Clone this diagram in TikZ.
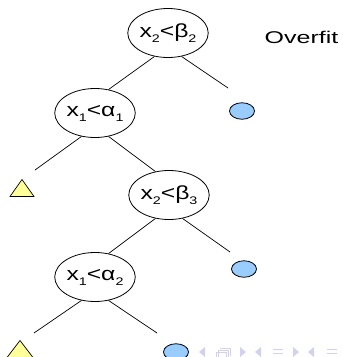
\documentclass[tikz,border=0pt]{standalone}
\usepackage{fontspec}
\setmainfont{Liberation Sans}
\usetikzlibrary{shapes.geometric}
\definecolor{leafblue}{HTML}{99CCFF}
\definecolor{leafyellow}{HTML}{FFFF99}
\definecolor{navc}{HTML}{D2D2EE}
\newcommand{\sbx}[1]{\raisebox{-5pt}{\fontsize{11}{11}\selectfont #1}}
\newcommand{\wide}[1]{\scalebox{1.3}[1]{#1}}
\newcommand{\widel}[1]{\scalebox{1.47}[1]{#1}}
\begin{document}
\begin{tikzpicture}[x=1pt,y=-1pt,
  split/.style={draw, ellipse, minimum width=75pt, minimum height=49pt, inner sep=0pt, line width=0.8pt, font=\fontsize{19}{19}\selectfont},
  bleaf/.style={draw, ellipse, fill=leafblue, minimum width=25pt, minimum height=16.5pt, inner sep=0pt, line width=0.8pt},
  tleaf/.style={draw, fill=leafyellow, line width=0.7pt, line join=miter},
  edge/.style={line width=0.7pt},
  nav/.style={fill=navc, draw=none},
  navl/.style={draw=navc, line width=1pt}
]
\useasboundingbox (0,0) rectangle (343,357);
% split nodes
\node[split] (top) at (168,33) {\wide{x\sbx{2}<β\sbx{2}}};
\node[split] (a1) at (95,113) {\wide{x\sbx{1}<α\sbx{1}}};
\node[split] (b3) at (169,195) {\wide{x\sbx{2}<β\sbx{3}}};
\node[split] (a2) at (95,277) {\wide{x\sbx{1}<α\sbx{2}}};
% leaves
\node[bleaf] (blue1) at (242,111) {};
\node[bleaf] (blue2) at (244,269) {};
\node[bleaf] (blue3) at (176,352) {};
\coordinate (t1) at (22,188);
\coordinate (t2) at (20,349);
\draw[tleaf] ([shift={(-12,8.5)}]t1) -- ([shift={(0,-8.5)}]t1) -- ([shift={(12,8.5)}]t1) -- cycle;
\draw[tleaf] ([shift={(-13,8.5)}]t2) -- ([shift={(0,-8.5)}]t2) -- ([shift={(13,8.5)}]t2) -- cycle;
% label
\node[font=\fontsize{17}{17}\selectfont] (lbl) at (301.5,37) {\widel{Overfit}};
% edge ends near leaves
\coordinate (e1) at (228,88);
\coordinate (e2) at (35,170);
\coordinate (e3) at (230,252);
\coordinate (e4) at (34,333);
\coordinate (e5) at (157,333);
% edges
\draw[edge] (top.240) -- (a1.60);
\draw[edge] (top.300) -- (e1);
\draw[edge] (a1.240) -- (e2);
\draw[edge] (a1.300) -- (b3.120);
\draw[edge] (b3.240) -- (a2.60);
\draw[edge] (b3.300) -- (e3);
\draw[edge] (a2.240) -- (e4);
\draw[edge] (a2.300) -- (e5);
% navigation symbols (faint)
\fill[nav] (205,347) -- (199,352) -- (205,357) -- cycle;
\draw[navl] (218,350) rectangle (228,358);
\draw[navl] (216,352) rectangle (226,360);
\draw[navl] (220,348) -- (230,348) -- (230,356);
\fill[nav] (240,347) -- (246,352) -- (240,357) -- cycle;
\fill[nav] (261,347) -- (255,352) -- (261,357) -- cycle;
\draw[navl] (273,349) -- (283,349) (273,353) -- (283,353) (273,357) -- (283,357);
\fill[nav] (293,347) -- (299,352) -- (293,357) -- cycle;
\fill[nav] (314,347) -- (308,352) -- (314,357) -- cycle;
\draw[navl] (327,349) -- (337,349) (327,353) -- (337,353) (327,357) -- (337,357);
\end{tikzpicture}
\end{document}
